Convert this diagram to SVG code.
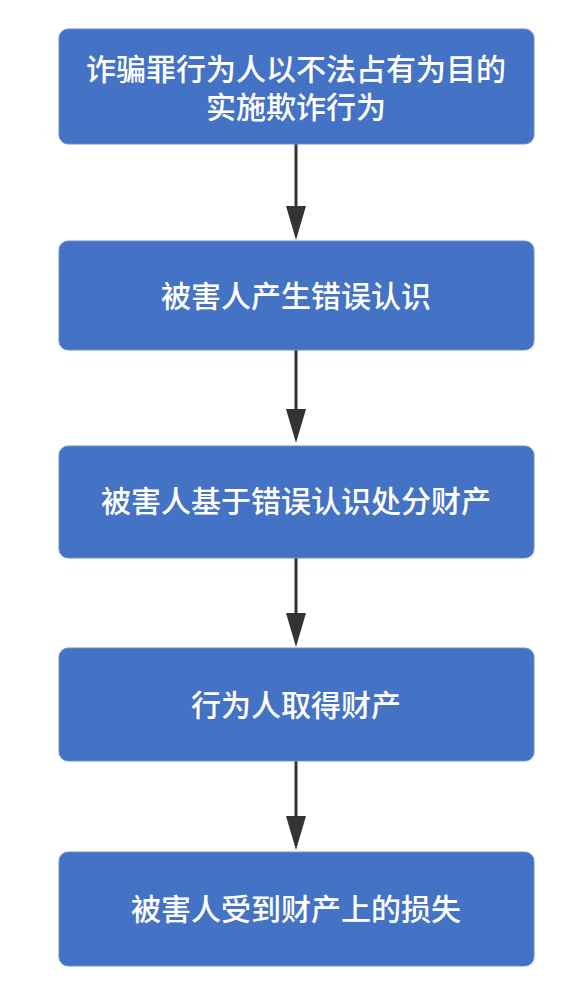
<svg xmlns="http://www.w3.org/2000/svg" width="586" height="1006" viewBox="0 0 586 1006">
<defs>
<style>
.box{fill:#4472C4;stroke:#6d90d0;stroke-width:1}
.t{fill:#ffffff;font-family:"Noto Sans CJK SC","Noto Sans",sans-serif;font-size:30px;font-weight:500;text-anchor:middle}
.c{stroke:#333333;stroke-width:3;fill:none}
</style>
<marker id="ah" markerWidth="34" markerHeight="20" refX="0" refY="10" orient="auto" markerUnits="userSpaceOnUse" viewBox="0 0 34 20">
<path d="M0,0 L34,10 L0,20 Z" fill="#333333"/>
</marker>
</defs>
<rect width="586" height="1006" fill="#ffffff"/>
<g id="connectors">
<line class="c" x1="296" y1="144" x2="296" y2="206" marker-end="url(#ah)"/>
<line class="c" x1="296" y1="350" x2="296" y2="409" marker-end="url(#ah)"/>
<line class="c" x1="296" y1="558" x2="296" y2="613" marker-end="url(#ah)"/>
<line class="c" x1="296" y1="761" x2="296" y2="816" marker-end="url(#ah)"/>
</g>
<g id="n1"><rect class="box" x="59" y="29" width="475" height="115" rx="9"/>
<text class="t" x="296" y="80">诈骗罪行为人以不法占有为目的</text>
<text class="t" x="296" y="118">实施欺诈行为</text></g>
<g id="n2"><rect class="box" x="59" y="241" width="475" height="109" rx="9"/>
<text class="t" x="296" y="307">被害人产生错误认识</text></g>
<g id="n3"><rect class="box" x="59" y="446" width="475" height="112" rx="9"/>
<text class="t" x="296" y="512">被害人基于错误认识处分财产</text></g>
<g id="n4"><rect class="box" x="59" y="648" width="475" height="113" rx="9"/>
<text class="t" x="296" y="716">行为人取得财产</text></g>
<g id="n5"><rect class="box" x="59" y="852" width="475" height="114" rx="9"/>
<text class="t" x="296" y="920">被害人受到财产上的损失</text></g>
</svg>
